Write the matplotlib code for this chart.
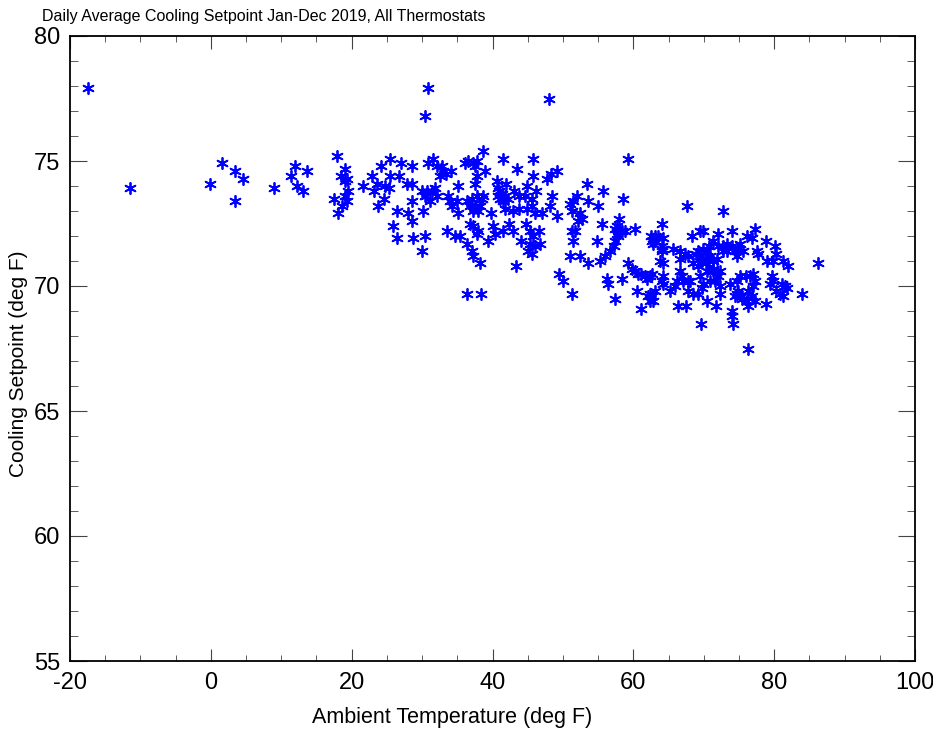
import matplotlib
matplotlib.use("Agg")
import matplotlib.pyplot as plt
from matplotlib.ticker import MultipleLocator

# daily ambient temperature (deg F) vs average cooling setpoint (deg F)
ambient = [
    -17.4, -11.5, -0.1, 1.6, 3.4, 4.6, 3.4, 9.0, 11.4, 12.0, 13.7, 12.2, 13.1,
    17.9, 19.1, 18.5, 19.3, 19.1, 17.5, 19.1, 19.3, 18.6, 18.1, 19.5,
    21.6, 22.9, 23.6, 23.2, 24.2, 25.4, 24.7, 25.3, 25.4, 26.7, 27.0, 28.6, 27.9, 28.6,
    24.6, 23.7, 26.4, 28.0, 28.6, 28.6, 25.9, 26.4, 28.7, 30.0, 30.4, 30.1, 30.8, 30.4,
    30.0, 30.7, 31.4, 31.8, 30.6, 31.1, 30.4, 30.8, 31.5, 32.1, 32.8, 33.0, 33.4, 34.1,
    32.5, 32.1, 33.7, 34.0, 34.2, 34.9, 35.1, 35.1, 33.5, 34.7, 35.4, 36.4, 37.1, 37.2,
    38.2, 36.1, 36.5, 37.2, 37.8, 37.5, 38.9, 38.6, 37.8, 37.5, 40.6, 36.4, 37.1, 37.8,
    38.5, 36.8, 37.5, 38.2, 37.2, 37.9, 39.8, 36.8, 37.2, 37.9, 37.8, 40.1, 40.4, 39.4,
    40.9, 40.8, 36.4, 38.4,
    48.0, 41.5, 45.7, 59.2, 43.5, 45.7, 47.7, 48.3, 49.2, 41.9, 40.8, 41.4, 41.8, 41.1,
    41.5, 42.2, 43.0, 43.8, 44.9, 44.6, 45.6, 46.2, 38.7, 48.5, 41.8, 42.9, 43.8, 44.9,
    45.6, 46.0, 47.0, 48.2, 49.2, 42.3, 42.9, 41.5, 44.8, 45.3, 46.6, 45.7, 44.0, 45.3,
    46.0, 46.7, 45.0, 45.6, 43.3, 49.4, 50.0, 51.3, 51.0, 51.4, 52.0, 51.3, 52.4, 52.7,
    52.1, 53.4, 53.6, 55.0, 55.7, 58.5, 51.3, 51.7, 51.4, 54.8, 55.5, 51.0, 52.4, 53.6,
    55.3, 56.0, 56.7, 57.2, 58.0, 57.7, 58.4, 57.7, 57.8, 60.2, 56.3, 56.4, 58.4, 57.4,
    59.2, 59.8, 60.2, 60.7, 61.7, 62.6, 60.5, 61.1, 62.6, 62.8, 63.1, 62.4, 62.6, 63.1,
    62.4,
    67.6, 72.7, 57.4, 58.1, 58.8, 64.1, 62.5, 63.1, 63.5, 64.1, 64.2, 68.3, 69.5, 69.9,
    72.0, 74.0, 76.1, 77.3, 76.8, 78.8, 80.1, 80.3, 79.8, 79.0, 81.2, 82.0, 86.2, 57.4,
    64.1, 63.8, 65.6, 66.6, 67.3, 66.6, 67.8, 69.2, 69.9, 70.4, 69.5, 70.2, 70.9, 69.7,
    68.5, 71.3, 71.3, 72.0, 72.7, 73.3, 74.0, 74.4, 74.9, 74.7, 75.1, 75.6, 77.6, 77.7,
    64.2, 64.1, 66.6, 66.9, 66.2, 67.0, 65.9, 65.2, 68.0, 67.8, 68.5, 69.2, 69.5, 70.5,
    71.3, 72.0, 71.6, 72.3, 69.9, 70.9, 73.7, 74.7, 75.1, 74.9, 74.4, 75.4, 76.1, 76.8,
    76.6, 77.0, 77.3, 77.0, 76.3, 79.7, 79.8, 79.4, 81.1, 81.5, 81.8, 80.8, 81.2, 83.9,
    78.8, 76.3, 62.8, 66.3, 67.5, 70.5, 71.7, 74.0, 74.0, 74.1, 69.6, 76.3, 61.1, 62.4,
    61.9, 64.2, 62.1, 67.8, 69.7, 71.3, 72.3, 76.0, 74.7, 75.4, 77.3, 72.3, 80.3, 64.1,
    64.2, 70.3, 69.2, 68.9, 70.8, 70.5, 71.9, 73.3, 72.7,
]
setpoint = [
    77.9, 73.9, 74.1, 74.9, 74.6, 74.3, 73.4, 73.9, 74.4, 74.8, 74.6, 74.0, 73.8,
    75.2, 74.7, 74.4, 74.3, 74.2, 73.5, 73.6, 73.4, 73.2, 72.9, 73.8,
    74.0, 74.4, 74.1, 73.8, 74.8, 75.1, 74.0, 73.9, 74.4, 74.4, 74.9, 74.8, 74.1, 74.1,
    73.5, 73.2, 73.0, 72.9, 72.6, 73.4, 72.4, 71.9, 71.9, 71.4, 72.0, 73.0, 77.9, 76.8,
    73.8, 73.8, 73.8, 73.9, 73.6, 73.4, 73.6, 74.9, 75.1, 74.8, 74.8, 74.6, 74.5, 74.6,
    74.4, 73.6, 73.6, 73.4, 73.2, 73.4, 74.0, 72.9, 72.2, 72.0, 72.0, 71.7, 71.4, 71.2,
    70.9, 74.9, 75.0, 74.9, 75.0, 74.8, 74.6, 75.4, 74.4, 74.1, 74.2, 73.4, 73.5, 73.6,
    73.5, 73.2, 73.2, 73.2, 73.0, 73.0, 72.9, 72.5, 72.4, 72.2, 72.1, 72.4, 72.1, 71.8,
    73.8, 73.6, 69.7, 69.7,
    77.5, 75.1, 75.1, 75.1, 74.7, 74.4, 74.3, 74.5, 74.6, 74.1, 73.9, 73.7, 73.6, 73.5,
    73.4, 73.5, 73.8, 73.6, 74.0, 73.6, 73.5, 73.8, 73.6, 73.6, 73.1, 73.0, 73.1, 73.1,
    73.2, 72.9, 72.9, 73.2, 72.8, 72.5, 72.2, 72.2, 72.5, 72.2, 72.2, 72.0, 71.8, 71.7,
    71.6, 71.7, 71.4, 71.3, 70.8, 70.5, 70.2, 69.7, 73.3, 73.4, 73.6, 73.0, 72.9, 72.7,
    72.6, 74.1, 73.4, 73.2, 73.8, 73.5, 72.2, 72.2, 71.8, 71.8, 72.5, 71.2, 71.2, 70.9,
    71.0, 71.2, 71.4, 71.6, 72.7, 72.4, 72.2, 72.1, 72.0, 72.3, 70.3, 70.1, 70.3, 69.5,
    70.9, 70.7, 70.6, 70.5, 70.4, 70.5, 69.8, 69.1, 71.8, 71.7, 72.0, 69.7, 69.6, 69.8,
    69.4,
    73.2, 73.0, 72.3, 72.2, 72.2, 72.5, 72.0, 71.8, 72.0, 71.6, 71.9, 72.0, 72.2, 72.2,
    72.1, 72.2, 72.0, 72.3, 71.9, 71.8, 71.6, 71.3, 71.0, 71.0, 71.0, 70.8, 70.9, 71.8,
    71.4, 71.0, 71.5, 71.4, 71.3, 71.1, 71.2, 71.4, 71.5, 71.4, 71.2, 71.1, 71.2, 71.0,
    70.9, 71.0, 71.8, 71.6, 71.6, 71.4, 71.6, 71.4, 71.5, 71.2, 71.7, 71.4, 71.4, 71.3,
    70.4, 70.2, 70.6, 70.4, 70.2, 70.2, 70.0, 69.8, 70.2, 69.8, 69.7, 69.7, 70.4, 70.6,
    70.6, 70.4, 70.2, 70.0, 70.1, 70.2, 70.1, 70.2, 70.4, 69.8, 69.6, 69.6, 69.4, 69.6,
    70.4, 70.5, 70.2, 70.0, 69.8, 70.4, 70.2, 70.1, 70.1, 70.0, 69.9, 69.7, 69.6, 69.7,
    69.3, 69.2, 69.4, 69.2, 69.2, 69.4, 69.2, 69.0, 68.8, 68.5, 68.5, 67.5, 70.5, 70.4,
    70.3, 70.1, 69.6, 70.2, 69.9, 70.7, 70.6, 70.4, 69.7, 69.5, 69.4, 69.7, 69.8, 71.5,
    70.9, 70.9, 70.8, 71.3, 71.6, 71.1, 71.1, 71.7, 71.4,
]

plt.rcParams["font.family"] = ["Liberation Sans", "DejaVu Sans"]
plt.rcParams["axes.unicode_minus"] = False

fig = plt.figure(figsize=(9.33, 7.33), dpi=100)
ax = fig.add_axes([70 / 933, 1 - 661 / 733, 845 / 933, 625 / 733])

ax.scatter(ambient, setpoint, marker=(6, 2, 0), s=65, color="blue", linewidths=1.3)

ax.set_xlim(-20, 100)
ax.set_ylim(55, 80)
ax.xaxis.set_major_locator(MultipleLocator(20))
ax.xaxis.set_minor_locator(MultipleLocator(5))
ax.yaxis.set_major_locator(MultipleLocator(5))
ax.yaxis.set_minor_locator(MultipleLocator(1))

ax.tick_params(which="both", direction="in", top=True, right=True, labelsize=17, color="#444444")
ax.tick_params(axis="x", which="major", length=9, pad=8)
ax.tick_params(axis="x", which="minor", length=4.5)
ax.tick_params(axis="y", which="major", length=12, pad=7)
ax.tick_params(axis="y", which="minor", length=6)
for sp in ax.spines.values():
    sp.set_linewidth(1.3)

fig.text(42 / 933, 1 - 17 / 733, "Daily Average Cooling Setpoint Jan-Dec 2019, All Thermostats",
         fontsize=11.5, ha="left", va="center")
fig.text(452 / 933, 1 - 717 / 733, "Ambient Temperature (deg F)", fontsize=15.5, ha="center", va="center")
fig.text(19 / 933, 1 - 364 / 733, "Cooling Setpoint (deg F)", fontsize=15, rotation=90,
         ha="center", va="center")

fig.savefig("out.png", dpi=100)
